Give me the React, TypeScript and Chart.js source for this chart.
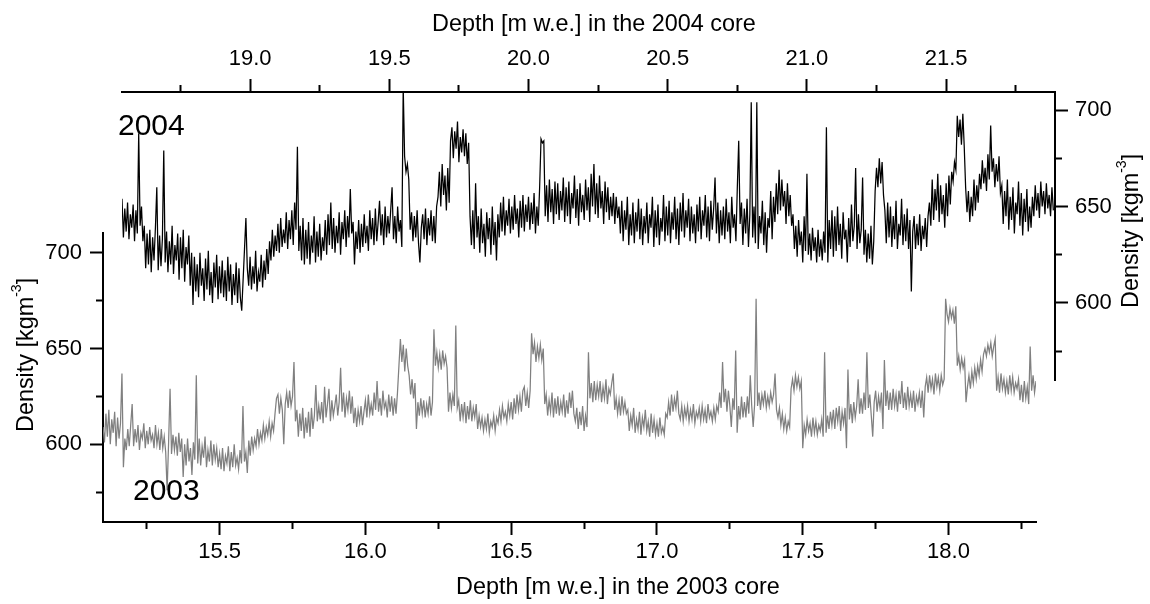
import React, { useEffect, useRef } from 'react';
import { Chart, registerables } from 'chart.js';

Chart.register(...registerables);

const FONT = '"Liberation Sans", Arial, Helvetica, sans-serif';

// Depth sampling grid (m w.e.)
const DEPTH_STEP = 0.005;
const DEPTH_2003_START = 15.1;
const DEPTH_2004_START = 18.54;

// 2003 core density (kg m-3), one value per 0.005 m w.e. from 15.100 to 18.300
const DENSITY_2003 = [
  609, 601, 616, 604, 618, 600, 613, 606, 617, 599, 614, 603, 611, 637, 588, 603, 597, 608, 599, 610,
  621, 599, 608, 601, 610, 597, 606, 603, 611, 598, 607, 600, 609, 602, 605, 598, 610, 600, 606, 597,
  608, 598, 604, 596, 576, 601, 629, 595, 605, 597, 604, 594, 606, 596, 603, 583, 600, 589, 603, 591,
  598, 584, 601, 592, 636, 590, 603, 589, 599, 593, 604, 588, 597, 591, 602, 589, 600, 592, 598, 588,
  595, 587, 598, 586, 594, 590, 599, 586, 596, 588, 600, 589, 593, 587, 597, 590, 620, 591, 596, 585,
  602, 594, 604, 597, 603, 599, 608, 600, 606, 602, 610, 603, 609, 605, 612, 604, 611, 607, 616, 624,
  626, 616, 624, 618, 600, 621, 627, 619, 628, 620, 625, 643, 612, 618, 604, 616, 607, 619, 603, 614,
  606, 617, 604, 619, 608, 615, 631, 612, 620, 613, 622, 611, 630, 614, 621, 629, 612, 623, 615, 620,
  626, 615, 622, 640, 617, 627, 614, 624, 618, 628, 616, 625, 611, 619, 609, 618, 612, 620, 610, 617,
  623, 614, 626, 616, 621, 615, 627, 618, 633, 617, 624, 615, 628, 619, 622, 614, 626, 617, 625, 615,
  624, 616, 627, 641, 655, 643, 652, 638, 650, 641, 636, 626, 634, 624, 632, 608, 622, 615, 624, 616,
  623, 614, 621, 616, 625, 615, 622, 660, 641, 648, 640, 647, 639, 649, 642, 646, 640, 617, 627, 619,
  626, 620, 662, 619, 623, 612, 621, 614, 622, 611, 620, 613, 623, 612, 619, 614, 621, 608, 615, 609,
  614, 607, 613, 608, 616, 606, 612, 609, 615, 607, 614, 611, 618, 612, 620, 614, 617, 612, 621, 615,
  622, 613, 624, 616, 626, 618, 625, 617, 628, 630, 620, 627, 619, 628, 658, 647, 653, 643, 651, 645,
  652, 644, 650, 621, 626, 615, 623, 617, 627, 614, 624, 616, 625, 615, 622, 617, 626, 614, 623, 616,
  627, 619, 628, 616, 612, 619, 608, 617, 610, 620, 607, 615, 609, 648, 624, 632, 622, 633, 623, 631,
  625, 633, 622, 630, 624, 634, 621, 629, 626, 632, 637, 618, 624, 616, 623, 615, 625, 617, 622, 616,
  618, 607, 615, 610, 619, 606, 613, 608, 617, 605, 614, 609, 618, 607, 612, 604, 616, 606, 613, 605,
  611, 604, 614, 606, 609, 605, 616, 614, 622, 615, 626, 617, 624, 619, 628, 616, 613, 620, 612, 619,
  614, 620, 612, 618, 613, 621, 611, 617, 614, 619, 612, 620, 613, 618, 611, 621, 614, 617, 612, 619,
  613, 620, 617, 627, 619, 643, 622, 629, 617, 628, 620, 609, 624, 618, 649, 606, 620, 613, 625, 614,
  622, 614, 625, 616, 636, 620, 609, 621, 676, 620, 627, 618, 626, 621, 628, 619, 625, 620, 627, 622,
  626, 637, 618, 614, 619, 610, 616, 608, 614, 607, 612, 609, 629, 634, 628, 636, 630, 635, 629, 633,
  598, 610, 605, 613, 607, 611, 604, 614, 606, 612, 605, 610, 607, 613, 604, 648, 606, 615, 608, 617,
  610, 618, 608, 619, 612, 620, 607, 617, 611, 619, 598, 639, 613, 621, 611, 622, 614, 620, 634, 616,
  624, 616, 627, 618, 648, 619, 626, 615, 604, 622, 628, 617, 625, 619, 627, 608, 644, 620, 628, 618,
  627, 618, 629, 620, 626, 617, 628, 621, 633, 619, 627, 618, 630, 620, 626, 619, 628, 617, 625, 621,
  627, 619, 628, 614, 630, 635, 627, 636, 629, 634, 626, 637, 630, 635, 628, 636, 631, 634, 676, 668,
  664, 671, 666, 670, 663, 672, 641, 646, 639, 645, 640, 644, 622, 630, 636, 629, 638, 632, 640, 634,
  641, 636, 644, 638, 647, 650, 646, 652, 648, 653, 646, 651, 655, 628, 635, 627, 637, 629, 634, 627,
  633, 626, 636, 628, 635, 627, 632, 629, 634, 623, 631, 622, 633, 624, 630, 621, 651, 628, 636, 627,
  633,
];

// 2004 core density (kg m-3), one value per 0.005 m w.e. from 18.540 to 21.885
const DENSITY_2004 = [
  654, 634, 649, 637, 652, 633, 646, 639, 651, 632, 648, 636,
  688, 640, 650, 632, 640, 618, 636, 620, 638, 616, 634, 622, 639, 660, 617, 635, 619, 633, 679, 621,
  637, 616, 632, 620, 640, 615, 630, 622, 636, 612, 634, 618, 638, 611, 629, 620, 635, 609, 626, 599,
  624, 606, 620, 603, 626, 609, 618, 601, 623, 607, 627, 604, 616, 600, 621, 608, 625, 602, 619, 605,
  622, 603, 617, 601, 624, 606, 620, 599, 615, 604, 621, 600, 618, 603, 596, 612, 628, 644, 618, 609,
  624, 607, 619, 610, 627, 606, 616, 611, 625, 608, 622, 612, 628, 615, 632, 622, 638, 624, 635, 627,
  641, 626, 644, 629, 638, 631, 647, 628, 643, 633, 648, 630, 652, 638, 681, 627, 640, 622, 644, 620,
  638, 623, 642, 620, 635, 626, 645, 621, 637, 624, 641, 622, 634, 627, 643, 625, 646, 630, 652, 628,
  644, 626, 640, 631, 647, 625, 642, 633, 648, 629, 645, 634, 659, 636, 642, 620, 637, 628, 643, 626,
  641, 629, 646, 631, 640, 627, 648, 633, 644, 630, 649, 632, 642, 653, 635, 646, 630, 650, 634, 645,
  636, 648, 660, 633, 645, 631, 650, 637, 643, 629, 712, 676, 668, 672, 664, 638, 647, 632, 645, 634,
  648, 631, 621, 639, 646, 633, 649, 630, 644, 635, 648, 632, 645, 631, 650, 655, 668, 650, 672, 656,
  666, 648, 670, 652, 684, 691, 675, 689, 680, 694, 673, 686, 678, 690, 676, 688, 672, 683, 645, 630,
  648, 628, 662, 634, 645, 626, 649, 631, 641, 624, 647, 633, 644, 625, 650, 630, 642, 622, 646, 634,
  652, 637, 655, 635, 648, 640, 654, 636, 650, 638, 656, 641, 649, 634, 653, 639, 656, 637, 651, 642,
  655, 638, 652, 641, 657, 636, 650, 640, 660, 685, 683, 684, 645, 661, 642, 664, 647, 659, 641, 663,
  646, 662, 643, 658, 648, 665, 642, 660, 645, 663, 641, 657, 649, 666, 644, 659, 640, 662, 647, 656,
  643, 664, 648, 660, 642, 667, 650, 672, 646, 662, 644, 666, 649, 658, 641, 663, 647, 660, 643, 655,
  645, 657, 641, 655, 644, 650, 636, 653, 632, 648, 638, 655, 630, 646, 635, 652, 631, 647, 637, 654,
  633, 649, 630, 645, 636, 652, 631, 646, 639, 655, 629, 648, 634, 651, 630, 644, 637, 656, 632, 650,
  635, 653, 631, 647, 638, 655, 633, 649, 630, 652, 637, 657, 634, 648, 639, 654, 632, 650, 636, 646,
  631, 651, 637, 655, 633, 648, 640, 656, 634, 650, 632, 653, 638, 649, 665, 636, 652, 631, 648, 635,
  650, 633, 654, 637, 647, 631, 655, 639, 646, 632, 660, 684, 641, 652, 630, 649, 636, 654, 629, 646,
  704, 634, 650, 631, 704, 628, 645, 636, 653, 630, 647, 626, 644, 639, 658, 633, 655, 642, 662, 646,
  669, 648, 664, 650, 658, 641, 662, 645, 656, 640, 646, 628, 640, 624, 643, 630, 637, 621, 645, 627,
  667, 625, 636, 622, 639, 627, 634, 621, 638, 624, 633, 622, 637, 626, 691, 621, 643, 628, 648, 624,
  645, 627, 650, 630, 641, 623, 647, 633, 638, 621, 644, 629, 651, 632, 640, 670, 628, 646, 631, 638,
  665, 625, 638, 621, 636, 623, 640, 620, 632, 658, 670, 660, 675, 662, 673, 656, 648, 631, 652, 634,
  650, 629, 645, 633, 653, 628, 641, 635, 654, 630, 646, 632, 649, 628, 643, 606, 637, 645, 628, 641,
  630, 646, 627, 640, 633, 644, 629, 645, 652, 640, 664, 643, 659, 648, 667, 642, 661, 646, 656, 639,
  662, 645, 666, 651, 668, 663, 673, 669, 697, 686, 695, 682, 698, 681, 660, 647, 658, 642, 655, 645,
  664, 648, 661, 652, 667, 659, 674, 662, 670, 658, 677, 664, 692, 668, 675, 660, 672, 663, 676, 657,
  661, 641, 658, 645, 664, 638, 655, 643, 660, 636, 652, 646, 663, 640, 657, 635, 654, 642, 659, 637,
  650, 639, 655, 645, 661, 648, 657, 644, 663, 650, 658, 646, 662, 649, 656, 645, 660, 648,
];

// Tick positions (all ticks) and the labelled (major) ones
const BOTTOM_TICKS = [15.25, 15.5, 15.75, 16.0, 16.25, 16.5, 16.75, 17.0, 17.25, 17.5, 17.75, 18.0, 18.25];
const BOTTOM_LABELED = [15.5, 16.0, 16.5, 17.0, 17.5, 18.0];
const TOP_TICKS = [18.75, 19.0, 19.25, 19.5, 19.75, 20.0, 20.25, 20.5, 20.75, 21.0, 21.25, 21.5, 21.75];
const TOP_LABELED = [19.0, 19.5, 20.0, 20.5, 21.0, 21.5];
const DENSITY_TICKS = [575, 600, 625, 650, 675, 700];
const DENSITY_LABELED = [600, 650, 700];

// Axis ranges
const X_RANGE_2003 = [15.1, 18.3];
const Y_RANGE_2003 = [559.45, 710.3];
const X_RANGE_2004 = [18.54, 21.891];
const Y_RANGE_2004 = [560.1, 709.33];

const TITLE_X_2003 = 'Depth [m w.e.] in the 2003 core';
const TITLE_X_2004 = 'Depth [m w.e.] in the 2004 core';
const LABEL_2003 = '2003';
const LABEL_2004 = '2004';

const near = (list: number[], v: number) => list.some((m) => Math.abs(m - v) < 1e-6);

function toPoints(start: number, values: number[]) {
  return values.map((v, i) => ({ x: +(start + i * DEPTH_STEP).toFixed(3), y: v }));
}

function makeScale(
  position: 'top' | 'bottom' | 'left' | 'right',
  range: number[],
  ticks: number[],
  labeled: number[],
  fmt: (v: number) => string,
  boxSize: number,
  labelPad: number
) {
  const outward = position === 'bottom' || position === 'right';
  const horizontal = position === 'top' || position === 'bottom';
  return {
    type: 'linear',
    position,
    min: range[0],
    max: range[1],
    bounds: 'data',
    afterBuildTicks: (s: any) => {
      s.ticks = ticks.map((v) => ({ value: v }));
    },
    afterFit: (s: any) => {
      if (horizontal) s.height = boxSize;
      else s.width = boxSize;
      s.paddingLeft = 0;
      s.paddingRight = 0;
      s.paddingTop = 0;
      s.paddingBottom = 0;
    },
    border: { display: true, color: '#000', width: 2 },
    grid: {
      display: true,
      drawOnChartArea: false,
      drawTicks: true,
      tickLength: 13,
      tickWidth: 2,
      tickColor: '#000',
      tickBorderDash: (ctx: any) => {
        const v = ctx && ctx.tick ? ctx.tick.value : NaN;
        if (near(labeled, v)) return [];
        return outward ? [6, 30] : [0, 6, 30];
      },
    },
    ticks: {
      autoSkip: false,
      maxRotation: 0,
      minRotation: 0,
      padding: labelPad,
      color: '#000',
      font: { family: FONT, size: 22 },
      callback: (v: any) => (near(labeled, Number(v)) ? fmt(Number(v)) : ''),
    },
    title: { display: false },
  };
}

type TextPart = { text: string; size: number; rise?: number };
type TextItem = { parts: TextPart[]; x: number; y: number; rotate?: boolean };

function textPlugin(id: string, items: TextItem[]) {
  return {
    id,
    afterDraw(chart: any) {
      const ctx = chart.ctx as CanvasRenderingContext2D;
      for (const item of items) {
        ctx.save();
        ctx.translate(item.x, item.y);
        if (item.rotate) ctx.rotate(-Math.PI / 2);
        ctx.fillStyle = '#000';
        ctx.textAlign = 'left';
        ctx.textBaseline = 'alphabetic';
        let cx = 0;
        for (const p of item.parts) {
          ctx.font = `${p.size}px ${FONT}`;
          ctx.fillText(p.text, cx, -(p.rise || 0));
          cx += ctx.measureText(p.text).width;
        }
        ctx.restore();
      }
    },
  };
}

const densityTitle = (): TextPart[] => [
  { text: 'Density [kgm', size: 23.4 },
  { text: '-3', size: 14, rise: 12 },
  { text: ']', size: 23.4 },
];

export default function App() {
  const ref2003 = useRef<HTMLCanvasElement>(null);
  const ref2004 = useRef<HTMLCanvasElement>(null);

  useEffect(() => {
    const common = {
      responsive: false,
      animation: false,
      events: [],
      plugins: { legend: { display: false }, tooltip: { enabled: false }, title: { display: false } },
      elements: { point: { radius: 0 }, line: { tension: 0 } },
    };

    const chart2003 = new Chart(ref2003.current as HTMLCanvasElement, {
      type: 'line',
      data: {
        datasets: [
          {
            label: '2003',
            data: toPoints(DEPTH_2003_START, DENSITY_2003),
            borderColor: 'rgb(128,128,128)',
            borderWidth: 1.25,
            pointRadius: 0,
            fill: false,
          },
        ],
      },
      options: {
        ...common,
        layout: { padding: { left: 0, top: 233, right: 114, bottom: 0 } },
        scales: {
          x: makeScale('bottom', X_RANGE_2003, BOTTOM_TICKS, BOTTOM_LABELED, (v) => v.toFixed(1), 82, 4),
          y: makeScale('left', Y_RANGE_2003, DENSITY_TICKS, DENSITY_LABELED, (v) => String(v), 103, 8),
        },
      } as any,
      plugins: [
        textPlugin('texts2003', [
          { parts: [{ text: LABEL_2003, size: 30 }], x: 133, y: 500 },
          { parts: [{ text: TITLE_X_2003, size: 23.4 }], x: 456, y: 594 },
          { parts: densityTitle(), x: 33, y: 432, rotate: true },
        ]),
      ],
    } as any);

    const chart2004 = new Chart(ref2004.current as HTMLCanvasElement, {
      type: 'line',
      data: {
        datasets: [
          {
            label: '2004',
            data: toPoints(DEPTH_2004_START, DENSITY_2004),
            borderColor: '#000',
            borderWidth: 1.25,
            pointRadius: 0,
            fill: false,
          },
        ],
      },
      options: {
        ...common,
        layout: { padding: { left: 122, top: 0, right: 0, bottom: 224 } },
        scales: {
          x: makeScale('top', X_RANGE_2004, TOP_TICKS, TOP_LABELED, (v) => v.toFixed(1), 92, 7),
          y: makeScale('right', Y_RANGE_2004, DENSITY_TICKS, DENSITY_LABELED, (v) => String(v), 95, 7),
        },
      } as any,
      plugins: [
        textPlugin('texts2004', [
          { parts: [{ text: LABEL_2004, size: 30 }], x: 118, y: 135 },
          { parts: [{ text: TITLE_X_2004, size: 23.4 }], x: 432, y: 31 },
          { parts: densityTitle(), x: 1138, y: 308, rotate: true },
        ]),
      ],
    } as any);

    return () => {
      chart2003.destroy();
      chart2004.destroy();
    };
  }, []);

  const canvasStyle: React.CSSProperties = { position: 'absolute', left: 0, top: 0, width: 1150, height: 604 };

  return (
    <div style={{ position: 'fixed', left: 0, top: 0, width: 1150, height: 604, background: '#fff', overflow: 'hidden' }}>
      <canvas ref={ref2003} width={1150} height={604} style={canvasStyle} />
      <canvas ref={ref2004} width={1150} height={604} style={canvasStyle} />
    </div>
  );
}
